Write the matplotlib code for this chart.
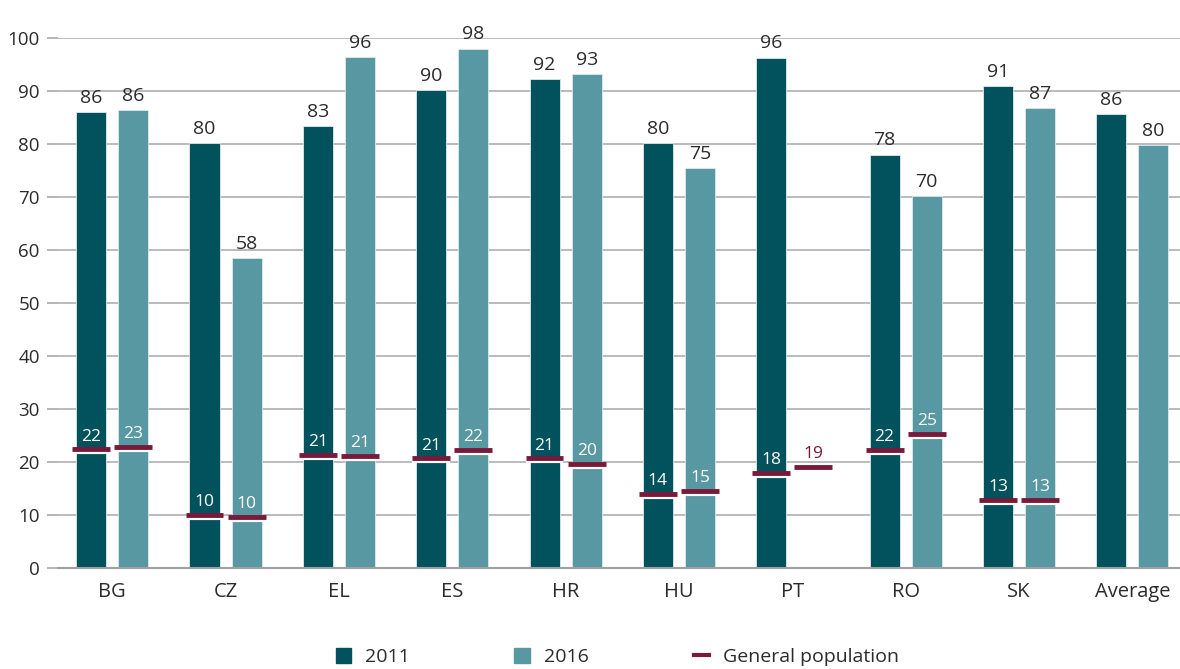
import matplotlib.pyplot as plt
import numpy as np
from matplotlib.lines import Line2D
from matplotlib.patches import Patch

plt.rcParams['font.family'] = ['Open Sans', 'DejaVu Sans']

countries = ['BG', 'CZ', 'EL', 'ES', 'HR', 'HU', 'PT', 'RO', 'SK', 'Average']
v2011 = [86.0, 80.2, 83.4, 90.2, 92.2, 80.2, 96.3, 78.0, 91.0, 85.6]
v2016 = [86.4, 58.5, 96.4, 98.0, 93.2, 75.4, np.nan, 70.2, 86.8, 79.8]
gen2011 = [22.4, 10.0, 21.4, 20.7, 20.7, 14.0, 17.9, 22.3, 12.8, np.nan]
gen2016 = [22.8, 9.6, 21.1, 22.3, 19.6, 14.6, 19.1, 25.3, 12.8, np.nan]

c11 = '#02525e'
c16 = '#5898a3'
cgen = '#7a1a3b'
ctxt = '#2b2b2b'

fig = plt.figure(figsize=(11.8, 6.69), dpi=100)
ax = fig.add_axes([0.049, 0.151, 0.951, 0.792])

x = np.arange(len(countries))
off = 0.186
w = 0.265

ax.bar(x - off, v2011, w, color=c11, edgecolor='#dfe9ea', linewidth=0.6, zorder=2)
ax.bar(x + off, v2016, w, color=c16, edgecolor='#dfe9ea', linewidth=0.6, zorder=2)

# value labels on top
for xi, v in zip(x - off, v2011):
    if not np.isnan(v):
        ax.text(xi, v + 1.0, f'{v:.0f}', ha='center', va='bottom', fontsize=14, color=ctxt)
for xi, v in zip(x + off, v2016):
    if not np.isnan(v):
        ax.text(xi, v + 1.0, f'{v:.0f}', ha='center', va='bottom', fontsize=14, color=ctxt)

# general population markers
hw = 0.167
for xs, gens, bars in [(x - off, gen2011, v2011), (x + off, gen2016, v2016)]:
    for xi, g, b in zip(xs, gens, bars):
        if np.isnan(g):
            continue
        ax.plot([xi - hw, xi + hw], [g - 0.55, g - 0.55], color='white', lw=3, solid_capstyle='butt', zorder=3)
        ax.plot([xi - hw, xi + hw], [g, g], color=cgen, lw=3.5, solid_capstyle='butt', zorder=4)
        tc = 'white' if not np.isnan(b) else cgen
        ax.text(xi, g + 0.9, f'{g:.0f}', ha='center', va='bottom', fontsize=12.5, color=tc, zorder=5)

ax.set_xlim(-0.48, 9.42)
ax.set_ylim(0, 100)
ax.set_yticks(np.arange(0, 101, 10))
ax.set_xticks(x)
ax.set_xticklabels(countries, fontsize=14.5, color=ctxt)
ax.tick_params(axis='y', labelsize=13.5, labelcolor=ctxt, length=8, color='#b0b0b0', width=1.3, pad=5)
ax.tick_params(axis='x', length=0, pad=10)
ax.yaxis.grid(True, color='#b5b5b5', lw=1.3, zorder=0)
ax.set_axisbelow(True)
for s in ['top', 'right', 'left']:
    ax.spines[s].set_visible(False)
ax.spines['bottom'].set_color('#a0a0a0')
ax.spines['bottom'].set_linewidth(1.5)

handles = [Patch(color=c11, label='2011'),
           Patch(color=c16, label='2016'),
           Line2D([0], [0], color=cgen, lw=3, label='General population')]
fig.legend(handles=handles, loc='lower center', bbox_to_anchor=(0.523, -0.022), ncol=3,
           frameon=False, fontsize=14, handlelength=0.8, handleheight=0.8,
           columnspacing=5.4, handletextpad=0.7, labelcolor=ctxt)

fig.savefig('out.png', dpi=100)
